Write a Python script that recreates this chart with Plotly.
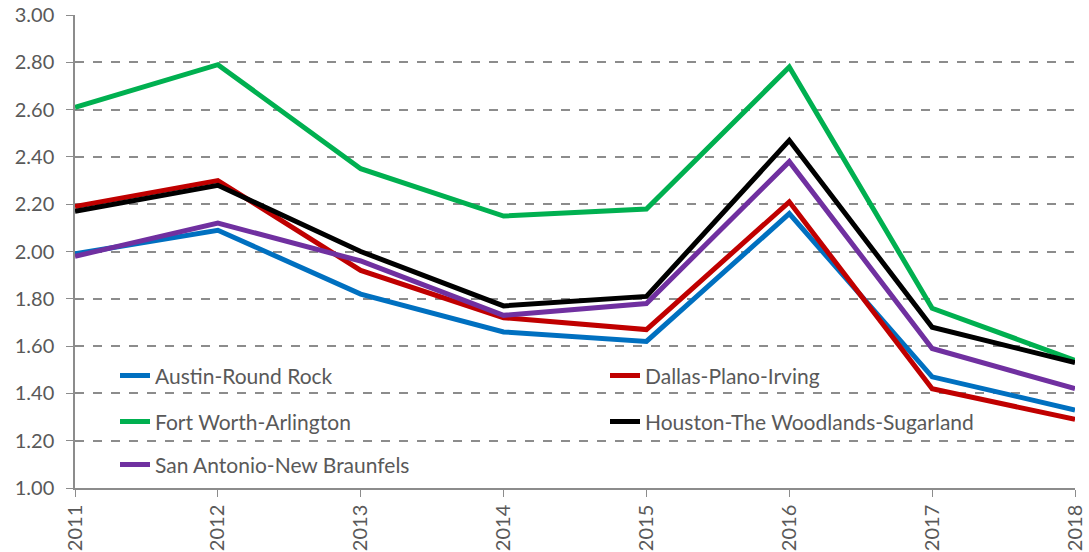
import plotly.graph_objects as go

years = [2011, 2012, 2013, 2014, 2015, 2016, 2017, 2018]
austin = [1.99, 2.09, 1.82, 1.66, 1.62, 2.16, 1.47, 1.33]
dallas = [2.19, 2.30, 1.92, 1.72, 1.67, 2.21, 1.42, 1.29]
fortworth = [2.61, 2.79, 2.35, 2.15, 2.18, 2.78, 1.76, 1.54]
houston = [2.17, 2.28, 2.00, 1.77, 1.81, 2.47, 1.68, 1.53]
sanantonio = [1.98, 2.12, 1.96, 1.73, 1.78, 2.38, 1.59, 1.42]

names = ["Austin-Round Rock", "Dallas-Plano-Irving", "Fort Worth-Arlington",
         "Houston-The Woodlands-Sugarland", "San Antonio-New Braunfels"]
series = [austin, dallas, fortworth, houston, sanantonio]
colors = ["#0070C0", "#C00000", "#00B050", "#000000", "#7030A0"]
legend_ids = ["legend", "legend2", "legend3", "legend4", "legend5"]
# legend entry anchor positions (paper coords)
leg_x = [0.040, 0.530, 0.040, 0.530, 0.040]
leg_y = [0.237, 0.237, 0.140, 0.140, 0.049]

fig = go.Figure()
order = [0, 1, 2, 4, 3]
for i in order:
    fig.add_trace(go.Scatter(x=years, y=series[i], name=names[i], mode="lines",
                             line=dict(color=colors[i], width=5),
                             legend=legend_ids[i]))

font_family = "Lato, 'Open Sans', sans-serif"
txt = "#595959"
legend_layout = {}
for i, lid in enumerate(legend_ids):
    legend_layout[lid] = dict(orientation="h", xanchor="left", yanchor="middle",
                              x=leg_x[i], y=leg_y[i], bgcolor="rgba(0,0,0,0)",
                              font=dict(family=font_family, size=21, color=txt))

fig.update_layout(
    width=1089, height=552,
    margin=dict(l=75, r=14, t=15, b=64),
    paper_bgcolor="white", plot_bgcolor="white",
    font=dict(family=font_family, size=20, color=txt),
    showlegend=True,
    **legend_layout,
    xaxis=dict(range=[2011, 2018], tickmode="array", tickvals=years,
               ticktext=[str(y) for y in years], tickangle=-90, automargin=False,
               showgrid=False, zeroline=False, showline=True, linecolor="#8c8c8c",
               linewidth=1.5, ticks="outside", ticklen=7, tickcolor="#8c8c8c",
               tickfont=dict(size=20, color=txt)),
    yaxis=dict(range=[1.0, 3.0], tickmode="array", automargin=False,
               tickvals=[1.0, 1.2, 1.4, 1.6, 1.8, 2.0, 2.2, 2.4, 2.6, 2.8, 3.0],
               tickformat=".2f", showgrid=True, gridcolor="#8c8c8c", griddash="dash",
               gridwidth=1.5, zeroline=False, showline=True, linecolor="#8c8c8c",
               linewidth=1.5, ticks="outside", ticklen=7, tickcolor="#8c8c8c",
               ticklabelstandoff=8,
               tickfont=dict(size=20, color=txt)),
)
fig.write_html("out.html", config={"displayModeBar": False},
               post_script="document.body.style.margin='0';")
